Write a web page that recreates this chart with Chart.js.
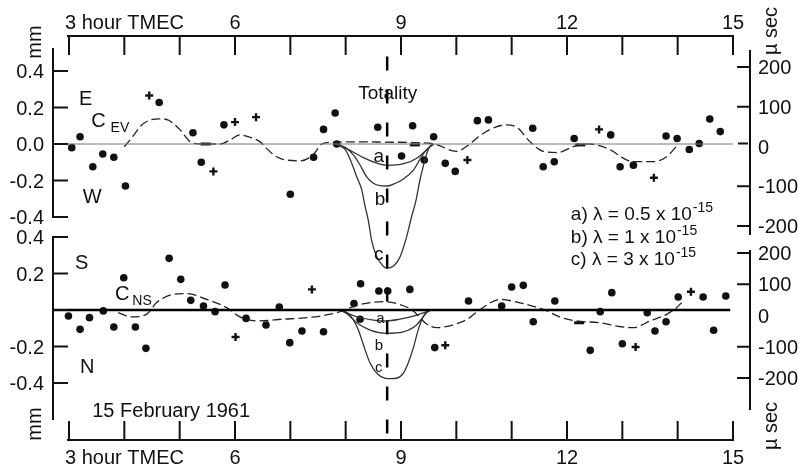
<!DOCTYPE html>
<html>
<head>
<meta charset="utf-8">
<script src="https://cdn.jsdelivr.net/npm/chart.js@4.4.1/dist/chart.umd.min.js"></script>
<style>
  html, body { margin: 0; padding: 0; background: #fff; }
  canvas { display: block; }
</style>
</head>
<body>
<canvas id="chart" width="799" height="468"></canvas>
<script>
// time axis (hours TMEC)
const hourTicks = [3, 4, 5, 6, 7, 8, 9, 10, 11, 12, 13, 14, 15];
const hourLabels = { 3: '3 hour TMEC', 6: '6', 9: '9', 12: '12', 15: '15' };

// left (mm) and right (micro sec) ticks
const mmTicks = [0.4, 0.2, 0, -0.2, -0.4];
const mmLabelsEV = ['0.4', '0.2', '0.0', '-0.2', '-0.4'];
const mmLabelsNS = ['0.4', '0.2', '', '-0.2', '-0.4'];
const usecTicks = [200, 100, 0, -100, -200];
const usecLabels = ['200', '100', '0', '-100', '-200'];

const totalityHour = 8.75;
const totalitySpan = [0.48, -1.62];
const zeroSpan = [2.71, 15];

// E-W component: observations [hour, mm]
const evDots = [[3.05, -0.02], [3.2, 0.04], [3.43, -0.125], [3.61, -0.055], [3.81, -0.073], [4.02, -0.23],
  [4.63, 0.227], [5.24, 0.062], [5.39, -0.1], [5.8, 0.105], [7.0, -0.275], [7.42, -0.073], [7.6, 0.08],
  [7.81, 0.17], [7.84, 0.0], [8.58, 0.092], [9.01, -0.066], [9.21, 0.1], [9.42, -0.088], [9.59, 0.04],
  [9.8, -0.106], [9.98, -0.15], [10.38, 0.128], [10.58, 0.132], [11.38, 0.086], [11.57, -0.125],
  [11.77, -0.097], [12.13, 0.03], [12.79, 0.05], [12.96, -0.125], [13.2, -0.116], [13.79, 0.044],
  [13.99, 0.03], [14.21, -0.03], [14.39, 0.003], [14.58, 0.137], [14.77, 0.068]];
const evPlus = [[4.45, 0.266], [5.61, -0.15], [6.0, 0.12], [6.38, 0.147], [10.2, -0.088], [12.58, 0.08], [13.57, -0.185]];
const evDash = [[5.47, 0.0], [9.25, -0.005], [12.24, -0.005]];

// E-W fitted curve C_EV
const evCurve = [[4.0, -0.015], [4.15, 0.04], [4.3, 0.1], [4.45, 0.13], [4.64, 0.138], [4.8, 0.13], [5.0, 0.08],
  [5.19, 0.013], [5.4, 0.0], [5.73, 0.0], [5.91, 0.022], [6.09, 0.05], [6.24, 0.04], [6.45, 0.013],
  [6.57, -0.024], [6.75, -0.07], [6.93, -0.088], [7.18, -0.092], [7.41, -0.06], [7.57, 0.0], [7.8, 0.01],
  [8.2, 0.012], [8.75, 0.01], [9.2, 0.008], [9.6, 0.0], [10.0, -0.04], [10.2, -0.01], [10.4, 0.04],
  [10.58, 0.075], [10.9, 0.105], [11.1, 0.09], [11.33, 0.013], [11.57, -0.04], [11.84, -0.047],
  [12.11, -0.015], [12.4, 0.0], [12.6, -0.01], [12.83, -0.04], [13.0, -0.075], [13.19, -0.097],
  [13.56, -0.097], [13.8, -0.07], [14.0, -0.005]];

// E-W model curves a, b, c
const evModelA = [[7.83, 0], [8.08, -0.035], [8.32, -0.075], [8.56, -0.105], [8.75, -0.117], [9.05, -0.108],
  [9.3, -0.075], [9.45, -0.035], [9.58, 0]];
const evModelB = [[7.83, 0], [8.0, -0.02], [8.14, -0.06], [8.26, -0.115], [8.38, -0.18], [8.5, -0.215],
  [8.62, -0.228], [8.75, -0.23], [8.9, -0.215], [9.05, -0.19], [9.22, -0.145], [9.37, -0.07], [9.5, -0.02], [9.6, 0]];
const evModelC = [[7.83, 0], [7.99, -0.03], [8.11, -0.105], [8.2, -0.18], [8.29, -0.25], [8.35, -0.34],
  [8.41, -0.42], [8.47, -0.53], [8.55, -0.61], [8.65, -0.66], [8.74, -0.68], [8.86, -0.67], [8.98, -0.62],
  [9.1, -0.51], [9.19, -0.4], [9.27, -0.31], [9.34, -0.2], [9.4, -0.125], [9.48, -0.04], [9.55, 0]];

// N-S component: observations [hour, mm]
const nsDots = [[2.99, -0.033], [3.2, -0.106], [3.37, -0.042], [3.62, -0.005], [3.81, -0.093], [3.99, 0.177],
  [4.2, -0.093], [4.39, -0.21], [4.81, 0.283], [5.02, 0.168], [5.2, 0.053], [5.43, 0.022], [5.64, -0.009],
  [5.82, 0.137], [6.2, -0.046], [6.56, -0.082], [6.8, 0.016], [6.99, -0.179], [7.21, -0.115], [7.6, -0.119],
  [8.15, 0.035], [8.27, 0.144], [8.26, -0.051], [8.6, 0.104], [8.76, 0.104], [9.16, 0.113], [9.61, -0.206],
  [10.22, 0.049], [10.82, 0.022], [11.0, 0.126], [11.21, 0.135], [11.39, -0.064], [11.78, 0.049],
  [12.42, -0.221], [12.6, -0.009], [12.81, 0.095], [13.0, -0.185], [13.45, -0.015], [13.59, -0.115],
  [13.79, -0.064], [14.01, 0.071], [14.46, 0.071], [14.65, -0.111], [14.87, 0.077]];
const nsPlus = [[6.01, -0.148], [7.39, 0.113], [9.8, -0.193], [13.24, -0.203], [14.24, 0.1]];
const nsDash = [[12.22, -0.07]];

// N-S fitted curve C_NS
const nsCurve = [[3.89, -0.015], [4.13, -0.038], [4.4, -0.024], [4.58, 0.04], [4.89, 0.086], [5.13, 0.09],
  [5.49, 0.058], [5.85, 0.013], [6.09, -0.038], [6.45, -0.06], [6.87, -0.05], [7.2, -0.045], [7.54, -0.033],
  [7.84, -0.015], [8.26, 0.03], [8.68, 0.046], [8.98, 0.03], [9.2, 0.0], [9.47, -0.078], [9.64, -0.097],
  [9.9, -0.085], [10.2, -0.05], [10.43, 0.003], [10.79, 0.058], [11.0, 0.05], [11.39, 0.02], [11.6, 0.0],
  [11.87, -0.038], [12.17, -0.06], [12.6, -0.07], [12.9, -0.088], [13.2, -0.097], [13.5, -0.06],
  [13.8, -0.024], [13.98, 0.013], [14.07, 0.04]];

// N-S model curves a, b, c
const nsModelA = [[7.9, 0], [8.2, -0.037], [8.5, -0.055], [8.74, -0.06], [8.98, -0.05], [9.22, -0.033], [9.46, -0.01], [9.55, 0]];
const nsModelB = [[7.9, 0], [8.05, -0.027], [8.2, -0.07], [8.44, -0.11], [8.74, -0.128], [9.04, -0.12],
  [9.28, -0.082], [9.43, -0.027], [9.52, 0]];
const nsModelC = [[7.9, 0], [8.05, -0.02], [8.14, -0.055], [8.23, -0.11], [8.32, -0.19], [8.44, -0.29],
  [8.59, -0.355], [8.71, -0.373], [8.82, -0.376], [8.92, -0.374], [9.04, -0.347], [9.13, -0.29],
  [9.22, -0.21], [9.31, -0.11], [9.4, -0.037], [9.48, 0]];

const INK = '#111';
const FONT = '"Liberation Sans", Arial, Helvetica, sans-serif';

// plot frame in canvas pixels and where the tick values sit
const AREA = { left: 69, right: 733, top: 36, bottom: 440 };
const W = 799, H = 468;

function rangeFor(vTop, pTop, vBot, pBot) {
    const k = (pBot - pTop) / (vTop - vBot);
    return { min: vBot - (AREA.bottom - pBot) / k, max: vTop + (pTop - AREA.top) / k };
}
const rT = rangeFor(0.4, 71, -0.4, 217);
const rB = rangeFor(0.4, 237, -0.4, 383);
const rTR = rangeFor(200, 67, -200, 226);
const rBR = rangeFor(200, 253, -200, 378);

// text drawn on the plot, placed in data coordinates
const notes = [
    { y: 'yT', h: 3.18, v: 0.214, text: 'E' },
    { y: 'yT', h: 3.25, v: -0.323, text: 'W' },
    { y: 'yT', h: 3.40, v: 0.093, text: 'C', sub: 'EV', gap: 5 },
    { y: 'yT', h: 8.76, v: 0.247, text: 'Totality', align: 'center', size: 19 },
    { y: 'yT', h: 8.60, v: -0.099, text: 'a', align: 'center', size: 19 },
    { y: 'yT', h: 8.62, v: -0.334, text: 'b', align: 'center', size: 19 },
    { y: 'yT', h: 8.60, v: -0.636, text: 'c', align: 'center', size: 19 },
    { y: 'yT', h: 12.07, v: -0.416, text: 'a) \u03bb = 0.5 x 10', sup: '-15', size: 19 },
    { y: 'yT', h: 12.07, v: -0.542, text: 'b) \u03bb = 1 x 10', sup: '-15', size: 19 },
    { y: 'yT', h: 12.07, v: -0.663, text: 'c) \u03bb = 3 x 10', sup: '-15', size: 19 },
    { y: 'yB', h: 3.11, v: 0.225, text: 'S' },
    { y: 'yB', h: 3.83, v: 0.055, text: 'C', sub: 'NS', gap: 3 },
    { y: 'yB', h: 3.20, v: -0.345, text: 'N' },
    { y: 'yB', h: 3.42, v: -0.586, text: '15 February 1961' },
    { y: 'yB', h: 8.63, v: -0.071, text: 'a', align: 'center', size: 15 },
    { y: 'yB', h: 8.60, v: -0.219, text: 'b', align: 'center', size: 15 },
    { y: 'yB', h: 8.60, v: -0.340, text: 'c', align: 'center', size: 15 }
];

const pts = arr => arr.map(([x, y]) => ({ x, y }));

function curve(data, yAxisID, opts) {
    return Object.assign({
        data: pts(data), yAxisID, showLine: true, pointRadius: 0, clip: false,
        borderColor: '#333', borderWidth: 1.3, cubicInterpolationMode: 'monotone'
    }, opts);
}

function marks(data, yAxisID, style) {
    const base = { data: pts(data), yAxisID, showLine: false, clip: false, pointHoverRadius: 0 };
    if (style === 'dot') {
        return Object.assign(base, { pointStyle: 'circle', pointRadius: 3.8, backgroundColor: INK, borderColor: INK, borderWidth: 0 });
    }
    if (style === 'plus') {
        return Object.assign(base, { pointStyle: 'cross', pointRadius: 4, borderColor: INK, borderWidth: 2.4 });
    }
    return Object.assign(base, { pointStyle: 'line', pointRadius: 5, borderColor: INK, borderWidth: 3 });
}

const axesPlugin = {
    id: 'axes',
    afterDraw(chart) {
        const ctx = chart.ctx;
        const { x, yT, yB, yTR, yBR } = chart.scales;
        const top = chart.chartArea.top, bottom = chart.chartArea.bottom;
        const line = (x1, y1, x2, y2) => { ctx.beginPath(); ctx.moveTo(x1, y1); ctx.lineTo(x2, y2); ctx.stroke(); };
        const text = (s, px, py, size, align, base) => {
            ctx.font = size + 'px ' + FONT;
            ctx.textAlign = align;
            ctx.textBaseline = base || 'alphabetic';
            ctx.fillText(s, px, py);
        };

        ctx.save();
        ctx.strokeStyle = INK;
        ctx.fillStyle = INK;
        ctx.lineWidth = 2;

        // time axes, top and bottom, ticks pointing inwards
        const x3 = x.getPixelForValue(3), x15 = x.getPixelForValue(15);
        line(x3 - 2, top, x15 + 1, top);
        line(x3 - 2, bottom, x15 + 1, bottom);
        hourTicks.forEach(h => {
            const px = x.getPixelForValue(h);
            line(px, top, px, top + 19);
            line(px, bottom, px, bottom - 19);
            const lab = hourLabels[h];
            if (lab) {
                const align = h === 3 ? 'left' : 'center';
                const ox = h === 3 ? -4 : 0;
                text(lab, px + ox, top - 7, 20, align);
                text(lab, px + ox, bottom + 24, 20, align);
            }
        });

        // left mm axes
        const lx = x3 - 16;
        line(lx, yT.getPixelForValue(0.4) - 23, lx, yT.getPixelForValue(-0.4) + 1);
        line(lx, yB.getPixelForValue(0.4) - 1, lx, yB.getPixelForValue(-0.4) + 37);
        mmTicks.forEach((v, i) => {
            const pt = yT.getPixelForValue(v), pb = yB.getPixelForValue(v);
            line(lx, pt, lx + 15, pt);
            line(lx, pb, lx + 15, pb);
            text(mmLabelsEV[i], lx - 9, pt + 7, 20, 'right');
            if (mmLabelsNS[i]) text(mmLabelsNS[i], lx - 9, pb + 7, 20, 'right');
        });

        // right micro-second axes
        const rx = x15 + 17;
        line(rx, yTR.getPixelForValue(200) - 17, rx, yTR.getPixelForValue(-200) + 9);
        line(rx, yBR.getPixelForValue(200) - 3, rx, yBR.getPixelForValue(-200) + 32);
        usecTicks.forEach((v, i) => {
            const pt = yTR.getPixelForValue(v), pb = yBR.getPixelForValue(v);
            if (v !== 0) {
                line(rx - 13, pt, rx, pt);
                line(rx - 13, pb, rx, pb);
            } else {
                line(rx - 12, pt - 3, rx - 2, pt - 3);
            }
            text(usecLabels[i], rx + 8, pt + 7, 20, 'left');
            text(usecLabels[i], rx + 8, pb + 7, 20, 'left');
        });

        // rotated unit titles
        const vtext = (s, px, py) => {
            ctx.save();
            ctx.translate(px, py);
            ctx.rotate(-Math.PI / 2);
            text(s, 0, 0, 20, 'center', 'middle');
            ctx.restore();
        };
        vtext('mm', lx - 18, 42);
        vtext('mm', lx - 18, 424);
        vtext('\u00b5 sec', rx + 21, 31);
        vtext('\u00b5 sec', rx + 21, 426);

        // annotations inside the panels
        notes.forEach(n => {
            const px = x.getPixelForValue(n.h);
            const py = chart.scales[n.y].getPixelForValue(n.v);
            const size = n.size || 20;
            text(n.text, px, py, size, n.align || 'left');
            ctx.font = size + 'px ' + FONT;
            const w = ctx.measureText(n.text).width;
            if (n.sub) text(n.sub, px + w + n.gap, py + 5, 14, 'left');
            if (n.sup) text(n.sup, px + w + 1, py - 8, 14, 'left');
        });
        ctx.restore();
    }
};

new Chart(document.getElementById('chart'), {
    type: 'scatter',
    data: {
        datasets: [
            curve([[zeroSpan[0], 0], [zeroSpan[1], 0]], 'yT', { borderColor: '#777', borderWidth: 1 }),
            curve([[zeroSpan[0], 0], [zeroSpan[1] - 0.05, 0]], 'yB', { borderColor: '#000', borderWidth: 2.5 }),
            curve([[totalityHour, totalitySpan[0]], [totalityHour, totalitySpan[1]]], 'yT',
                { borderColor: '#000', borderWidth: 2.5, borderDash: [14, 19], cubicInterpolationMode: 'default' }),
            curve(evCurve, 'yT', { borderDash: [9, 4], borderColor: '#222' }),
            curve(evModelA, 'yT'),
            curve(evModelB, 'yT'),
            curve(evModelC, 'yT'),
            curve(nsCurve, 'yB', { borderDash: [9, 4], borderColor: '#222' }),
            curve(nsModelA, 'yB'),
            curve(nsModelB, 'yB'),
            curve(nsModelC, 'yB'),
            marks(evDots, 'yT', 'dot'),
            marks(evPlus, 'yT', 'plus'),
            marks(evDash, 'yT', 'dash'),
            marks(nsDots, 'yB', 'dot'),
            marks(nsPlus, 'yB', 'plus'),
            marks(nsDash, 'yB', 'dash')
        ]
    },
    options: {
        responsive: false,
        animation: false,
        events: [],
        layout: { padding: { left: AREA.left, right: W - AREA.right, top: AREA.top, bottom: H - AREA.bottom } },
        plugins: { legend: { display: false }, tooltip: { enabled: false } },
        scales: {
            x: { type: 'linear', min: 3, max: 15, display: false },
            yT: { type: 'linear', min: rT.min, max: rT.max, display: false },
            yB: { type: 'linear', min: rB.min, max: rB.max, display: false },
            yTR: { type: 'linear', min: rTR.min, max: rTR.max, display: false },
            yBR: { type: 'linear', min: rBR.min, max: rBR.max, display: false }
        }
    },
    plugins: [axesPlugin]
});
</script>
</body>
</html>
